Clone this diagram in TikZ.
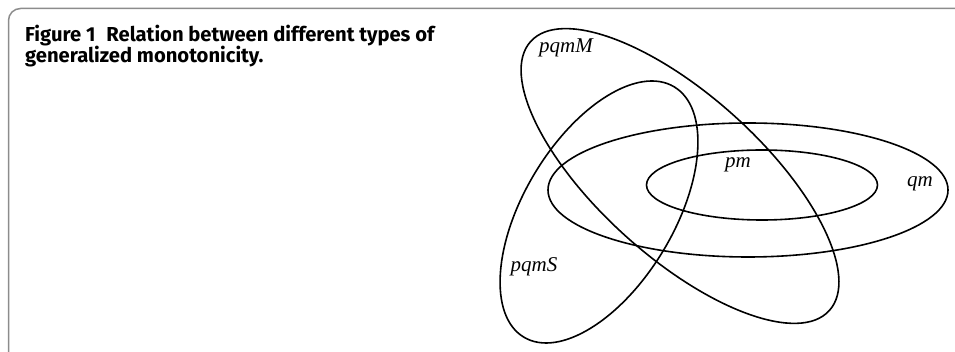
\documentclass[tikz,border=0pt]{standalone}
\usepackage{fontspec}
\setmainfont{Liberation Serif}
\newfontfamily\capfont{Fira Sans}
\begin{document}
\begin{tikzpicture}[x=1pt,y=1pt,
  frame/.style={draw=gray!90, line width=1.5pt, rounded corners=12pt},
  venn/.style={draw=black, line width=1.6pt},
  setlabel/.style={font=\fontsize{21}{25}\selectfont\itshape, inner sep=0pt},
  captext/.style={font=\capfont\bfseries\fontsize{20.2}{24}\selectfont, anchor=base west, inner sep=0pt}]
\useasboundingbox (0,0) rectangle (955,352);
\draw[frame] (8.5,0) -- (8.5,343.5) -- (955,343.5);
\node[captext] (cap1) at (25,310.5) {Figure 1\hspace{11pt}Relation between different types of};
\node[captext] (cap2) at (25,289) {generalized monotonicity.};
% ellipses
\draw[venn] (748,162) ellipse [x radius=200, y radius=67];
\draw[venn] (762,167) ellipse [x radius=115.5, y radius=35];
\draw[venn, rotate around={-42:(680,176)}] (680,176) ellipse [x radius=201, y radius=81];
\draw[venn, rotate around={59:(599,140)}] (599,140) ellipse [x radius=146, y radius=75];
% labels
\node[setlabel] (lM) at (566,304) {pqmM};
\node[setlabel] (lS) at (534,85) {pqmS};
\node[setlabel] (lpm) at (738,187) {pm};
\node[setlabel] (lqm) at (920,168) {qm};
\end{tikzpicture}
\end{document}
